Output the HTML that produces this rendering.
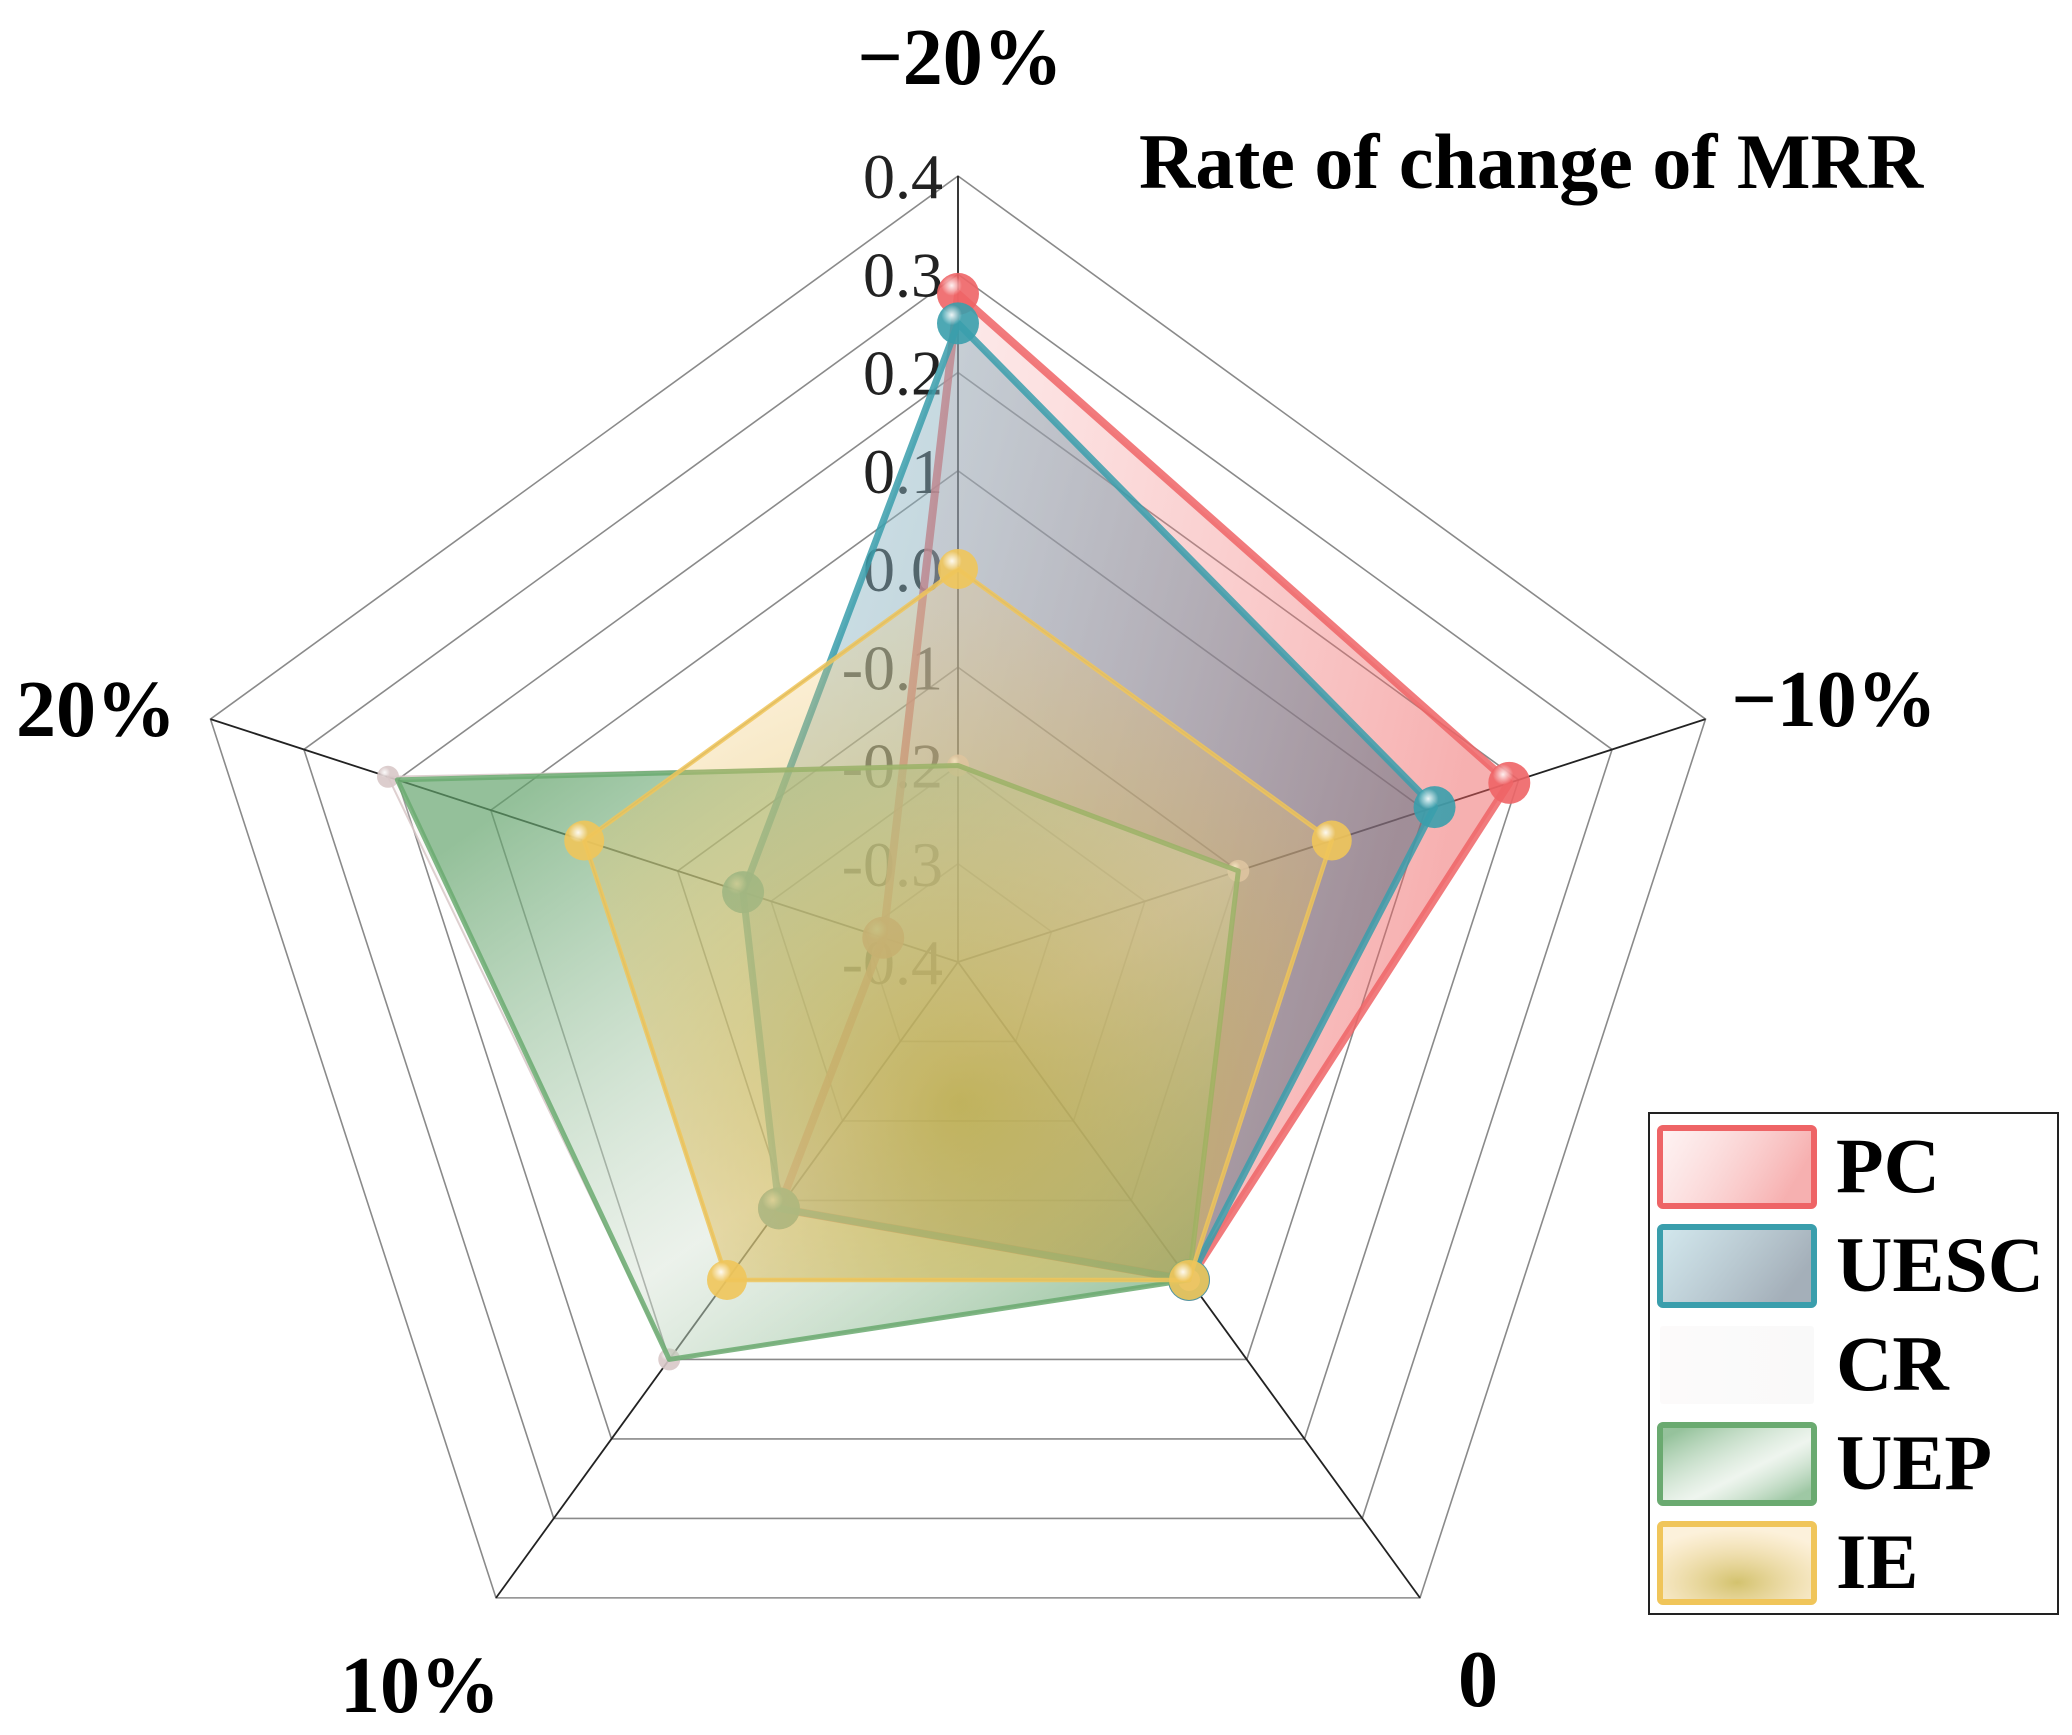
<!DOCTYPE html>
<html><head><meta charset="utf-8"><style>
html,body{margin:0;padding:0;background:#fff;}
svg{display:block;font-family:"Liberation Serif",serif;}
</style></head><body>
<svg id="chart" width="2072" height="1735" viewBox="0 0 2072 1735" xmlns="http://www.w3.org/2000/svg">
<defs>
<linearGradient id="gPC" x1="0" y1="0" x2="1" y2="0.3"><stop offset="0" stop-color="#f7b0b0" stop-opacity="0.15"/><stop offset="1" stop-color="#ee6060" stop-opacity="0.5"/></linearGradient>
<linearGradient id="gUESC" x1="0" y1="0" x2="1" y2="0.4"><stop offset="0" stop-color="#9ccbd8" stop-opacity="0.45"/><stop offset="1" stop-color="#5a6e80" stop-opacity="0.55"/></linearGradient>
<linearGradient id="gCR" x1="0" y1="0" x2="1" y2="0"><stop offset="0" stop-color="#f0e8e8" stop-opacity="0.2"/><stop offset="1" stop-color="#e0e0e0" stop-opacity="0.2"/></linearGradient>
<linearGradient id="gUEP" x1="0" y1="0.2" x2="0.8" y2="1"><stop offset="0" stop-color="#4f9a5a" stop-opacity="0.6"/><stop offset="0.6" stop-color="#cfe2cf" stop-opacity="0.35"/><stop offset="1" stop-color="#4f9a5a" stop-opacity="0.55"/></linearGradient>
<radialGradient id="gIE" cx="0.5" cy="0.75" r="0.7"><stop offset="0" stop-color="#c0a830" stop-opacity="0.7"/><stop offset="1" stop-color="#f5c870" stop-opacity="0.25"/></radialGradient>
<radialGradient id="ball" cx="0.35" cy="0.3" r="0.7"><stop offset="0" stop-color="#fff" stop-opacity="0.9"/><stop offset="0.35" stop-color="#fff" stop-opacity="0"/></radialGradient>
</defs>
<g id="grid"></g>
<g id="ticks"></g>
<g id="series"></g>
<g id="axislabels"></g>
<text x="1139" y="188" font-size="78" font-weight="bold">Rate of change of MRR</text>
<g>
<rect x="1649" y="1113" width="409" height="501" fill="#fff" stroke="#222" stroke-width="2"/>
<g id="legend"></g>
</g>
</svg>
<script>
const categories = ["−20%", "−10%", "0", "10%", "20%"];
const tickValues = [0.4, 0.3, 0.2, 0.1, 0.0, -0.1, -0.2, -0.3, -0.4];
const tickLabels = ["0.4", "0.3", "0.2", "0.1", "0.0", "-0.1", "-0.2", "-0.3", "-0.4"];
const seriesNames = ["PC", "UESC", "CR", "UEP", "IE"];
const pcValues = [0.28, 0.19, 0.0, -0.09, -0.32];
const uescValues = [0.25, 0.11, 0.0, -0.09, -0.17];
const crValues = [-0.2, -0.1, 0.0, 0.1, 0.21];
const uepValues = [-0.2, -0.1, 0.0, 0.1, 0.2];
const ieValues = [0.0, 0.0, 0.0, 0.0, 0.0];

const NS = "http://www.w3.org/2000/svg";
const CX = 958, CY = 962, R = 786, VMIN = -0.4, VMAX = 0.4;
function rScale(v){ return (v - VMIN) / (VMAX - VMIN) * R; }
function angle(i){ return (-90 + 72 * i) * Math.PI / 180; }
function pt(i, v){ const r = rScale(v), a = angle(i); return [CX + r * Math.cos(a), CY + r * Math.sin(a)]; }
function mk(tag, attrs, parent){ const e = document.createElementNS(NS, tag); for (const k in attrs) e.setAttribute(k, attrs[k]); parent.appendChild(e); return e; }

const grid = document.getElementById("grid");
tickValues.forEach(function(t){
  if (t === VMIN) return;
  const pts = categories.map(function(c, i){ return pt(i, t).join(","); }).join(" ");
  const ring = mk("polygon", {points: pts, fill: "none", stroke: "#8a8a8a", "stroke-width": 1.6}, grid);
  
  
});
categories.forEach(function(c, i){
  const p = pt(i, VMAX);
  const sp = mk("line", {x1: CX, y1: CY, x2: p[0], y2: p[1], stroke: "#222", "stroke-width": 1.8}, grid);
  
  
});

const ticks = document.getElementById("ticks");
tickValues.forEach(function(t, k){
  const y = CY - rScale(t);
  const tx = mk("text", {x: 943, y: y + 22, "text-anchor": "end", "font-size": 64, fill: "#222"}, ticks);
  tx.textContent = tickLabels[k];
  
  
});

const colors = ["#ee6466", "#3a9eac", "#d8c8c8", "#6aaa70", "#f0c55a"];
const fills = ["url(#gPC)", "url(#gUESC)", "url(#gCR)", "url(#gUEP)", "url(#gIE)"];
const widths = [8, 7, 2, 5, 4.5];
const markerR = [21, 21, 11, 0, 20];
const allSeries = [pcValues, uescValues, crValues, uepValues, ieValues];
const seriesG = document.getElementById("series");
allSeries.forEach(function(vals, s){
  const g = mk("g", {}, seriesG);
  
  
  const pts = vals.map(function(v, i){ return pt(i, v).join(","); }).join(" ");
  const poly = mk("polygon", {points: pts, fill: fills[s], stroke: colors[s], "stroke-width": widths[s], "stroke-linejoin": "round", "stroke-opacity": 0.85}, g);
  
  
  vals.forEach(function(v, i){
    if (!markerR[s]) return;
    const p = pt(i, v);
    const c = mk("circle", {cx: p[0], cy: p[1], r: markerR[s], fill: colors[s], "fill-opacity": 0.9}, g);
    
    
    const h = mk("circle", {cx: p[0], cy: p[1], r: markerR[s], fill: "url(#ball)"}, g);
    
    
  });
});

const axLabelPos = [[960, 84, "middle"], [1834, 726, "middle"], [1478, 1706, "middle"], [420, 1712, "middle"], [96, 736, "middle"]];
const axG = document.getElementById("axislabels");
categories.forEach(function(c, i){
  const q = axLabelPos[i];
  const t = mk("text", {x: q[0], y: q[1], "text-anchor": q[2], "font-size": 80, "font-weight": "bold"}, axG);
  t.textContent = c;
  
  
});

const lg = document.getElementById("legend");
seriesNames.forEach(function(n, k){
  const y = 1128 + k * 99;
  const r = mk("rect", {x: 1660, y: y, width: 154, height: 78, fill: fills[k], stroke: k === 2 ? "none" : colors[k], "stroke-width": 6, rx: 3}, lg);
  
  
  const t = mk("text", {x: 1836, y: y + 64, "font-size": 78, "font-weight": "bold"}, lg);
  t.textContent = n;
  
  
});
</script>
</body></html>
